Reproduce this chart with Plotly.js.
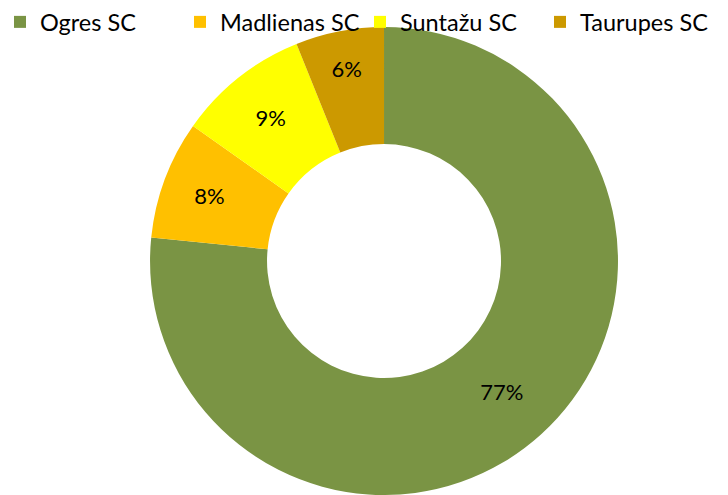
<!DOCTYPE html>
<html>
<head>
<meta charset="utf-8">
<script src="https://cdn.plot.ly/plotly-3.0.1.min.js"></script>
<style>html,body{margin:0;padding:0;background:#fff;}#chart{width:728px;height:495px;}</style>
</head>
<body>
<div id="chart"></div>
<script>
var categories = ["Ogres SC", "Madlienas SC", "Suntažu SC", "Taurupes SC"];
var shares = [76.6, 8.2, 9.1, 6.1];
var colors = ["#7A9444", "#FFC000", "#FFFF00", "#CC9900"];

var trace = {
  type: "pie",
  labels: categories,
  values: shares,
  hole: 0.5,
  sort: false,
  direction: "clockwise",
  rotation: 0,
  marker: {colors: colors, line: {width: 0}},
  textinfo: "percent",
  texttemplate: "%{percent:.0%}",
  textposition: "inside",
  insidetextorientation: "horizontal",
  textfont: {family: "Lato, 'Open Sans', sans-serif", size: 22, color: "#000"},
  domain: {x: [0.202, 0.853], y: [0, 0.955]},
  hoverinfo: "label+percent"
};

var layout = {
  width: 728,
  height: 495,
  margin: {l: 0, r: 0, t: 0, b: 0},
  paper_bgcolor: "#fff",
  showlegend: true,
  legend: {
    orientation: "h",
    x: 0, xanchor: "left",
    y: 1.01, yanchor: "top",
    entrywidth: 135,
    entrywidthmode: "pixels",
    font: {family: "Lato, 'Open Sans', sans-serif", size: 23.5, color: "#000"},
    bgcolor: "rgba(0,0,0,0)",
    traceorder: "normal"
  },
  font: {family: "Lato, sans-serif"}
};

Plotly.newPlot("chart", [trace], layout, {displayModeBar: false, staticPlot: true});
</script>
</body>
</html>
